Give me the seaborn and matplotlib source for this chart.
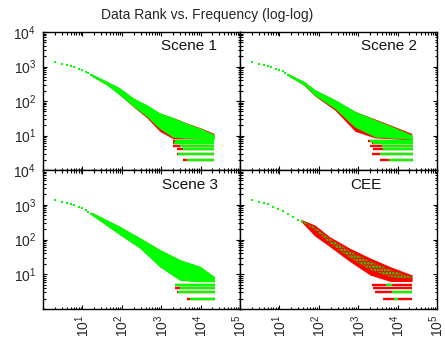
import numpy as np
import matplotlib
matplotlib.use("Agg")
import matplotlib.pyplot as plt
import seaborn as sns
from matplotlib.ticker import LogLocator, FuncFormatter, NullFormatter

# ---------------- data ----------------
panels = ["Scene 1", "Scene 2", "Scene 3", "CEE"]

# sparse head of the rank/frequency curve (green points)
s1_head_rank = [2, 3, 4, 5, 6, 8, 10, 12, 14, 17, 20]
s1_head_freq = [1350, 1180, 1100, 1020, 950, 850, 790, 710, 630, 560, 500]
s2_head_rank = [2, 3, 4, 5, 6, 8, 10, 12, 14, 17, 20]
s2_head_freq = [1350, 1190, 1110, 1030, 960, 860, 800, 720, 640, 570, 510]
s3_head_rank = [2, 3, 4, 5, 6, 8, 10, 12, 14, 17, 20]
s3_head_freq = [1380, 1200, 1120, 1040, 960, 860, 790, 700, 620, 550, 490]
cee_head_rank = [2, 3, 4, 5, 7, 9, 12, 17, 22, 30, 37]
cee_head_freq = [1380, 1230, 1150, 1050, 870, 740, 660, 560, 457, 363, 324]

# dense band envelopes (rank positions, upper / lower frequency)
s1_band_rank = [17, 42, 89, 195, 427, 933, 2040, 4470, 9550, 22000]
s1_green_hi = [600, 363, 234, 120, 76, 44, 32, 22, 16, 10.5]
s1_green_lo = [540, 295, 152, 72, 37, 16, 9, 8.5, 8, 8]
s1_red_hi = [600, 363, 234, 120, 76, 44, 33, 23, 17, 11.5]
s1_red_lo = [540, 295, 150, 68, 33, 13, 8, 8, 8, 8]

s2_band_rank = [17, 42, 79, 257, 832, 2690, 8510, 22900]
s2_green_hi = [600, 363, 209, 107, 49, 28, 16.6, 10.2]
s2_green_lo = [540, 295, 150, 62, 17.8, 9.3, 8.5, 8]
s2_red_hi = [600, 363, 209, 107, 50, 30, 18, 11.5]
s2_red_lo = [540, 285, 140, 54, 13.2, 8.5, 8, 7.4]

s3_band_rank = [17, 89, 288, 933, 3020, 9550, 22000]
s3_green_hi = [600, 234, 110, 50, 25.7, 16.6, 8.5]
s3_green_lo = [520, 140, 57.5, 16.6, 6.8, 6.2, 6.2]
s3_red_hi = [600, 234, 110, 50, 25.7, 16.6, 8.5]
s3_red_lo = [520, 140, 57.5, 16.6, 6.8, 6.2, 6.2]

cee_band_rank = [35, 79, 190, 617, 2000, 6460, 23400]
cee_green_hi = [363, 229, 107, 46, 23.4, 13.5, 8.3]
cee_green_lo = [331, 190, 78, 29.5, 13.5, 8.3, 7.1]
cee_red_hi = [380, 263, 120, 56, 29.5, 16.6, 9.5]
cee_red_lo = [330, 126, 62, 23, 9.5, 6.2, 6.2]

# horizontal streaks at small integer frequencies
s1_streak_freq = [2, 3, 4, 5, 6, 7]
s1_streak_red_start = [3630, 2450, 2450, 1950, 2040, 2040]
s1_streak_green_start = [4470, 2630, 3630, 3020, 2140, 2240]
s1_streak_green_end = [22000, 22000, 22000, 22000, 22000, 22000]
s1_streak_end = 22000

s2_streak_freq = [2, 3, 4, 5, 6, 7]
s2_streak_red_start = [3630, 2240, 2400, 2040, 2240, 1780]
s2_streak_green_start = [5890, 3550, 4370, 3980, 2400, 2000]
s2_streak_green_end = [24000, 24000, 24000, 24000, 24000, 24000]
s2_streak_end = 24000

s3_streak_freq = [2, 3, 4, 5]
s3_streak_red_start = [4470, 2510, 2240, 2240]
s3_streak_green_start = [5370, 2690, 3020, 2240]
s3_streak_green_end = [23400, 23400, 23400, 23400]
s3_streak_end = 23400

cee_streak_freq = [2, 3, 4, 5]
cee_streak_red_start = [4170, 2690, 2400, 2190]
cee_streak_green_start = [7940, 7080, 23400, 5010]
cee_streak_green_end = [10000, 23400, 23400, 7080]
cee_streak_end = 23400

# ---------------- styling ----------------
sns.set_style("ticks")
plt.rcParams['font.family'] = ['Liberation Sans', 'DejaVu Sans']
plt.rcParams['mathtext.default'] = 'regular'
plt.rcParams['hatch.linewidth'] = 1.3

RED = "#ff0000"
GREEN = "#00ff00"

fig = plt.figure(figsize=(4.45, 3.45), dpi=100)
W, H = 445, 345


def rect(x0, y0, x1, y1):
    return [x0 / W, 1 - y1 / H, (x1 - x0) / W, (y1 - y0) / H]


boxes = {
    "Scene 1": rect(43, 32, 240, 170),
    "Scene 2": rect(240, 32, 437, 170),
    "Scene 3": rect(43, 170, 240, 309),
    "CEE": rect(240, 170, 437, 309),
}
label_x = {"Scene 1": 0.885, "Scene 2": 0.9, "Scene 3": 0.89, "CEE": 0.72}

data = {
    "Scene 1": (s1_head_rank, s1_head_freq, s1_band_rank, s1_green_hi, s1_green_lo,
                s1_red_hi, s1_red_lo, s1_streak_freq, s1_streak_red_start,
                s1_streak_green_start, s1_streak_green_end, s1_streak_end),
    "Scene 2": (s2_head_rank, s2_head_freq, s2_band_rank, s2_green_hi, s2_green_lo,
                s2_red_hi, s2_red_lo, s2_streak_freq, s2_streak_red_start,
                s2_streak_green_start, s2_streak_green_end, s2_streak_end),
    "Scene 3": (s3_head_rank, s3_head_freq, s3_band_rank, s3_green_hi, s3_green_lo,
                s3_red_hi, s3_red_lo, s3_streak_freq, s3_streak_red_start,
                s3_streak_green_start, s3_streak_green_end, s3_streak_end),
    "CEE": (cee_head_rank, cee_head_freq, cee_band_rank, cee_green_hi, cee_green_lo,
            cee_red_hi, cee_red_lo, cee_streak_freq, cee_streak_red_start,
            cee_streak_green_start, cee_streak_green_end, cee_streak_end),
}


def fmt(v, pos):
    e = int(round(np.log10(v)))
    return "$10^{%d}$" % e if e >= 1 else ""


for name in panels:
    ax = fig.add_axes(boxes[name])
    (hr, hf, br, ghi, glo, rhi, rlo, sf, srs, sgs, sge, se) = data[name]
    ax.set_xscale("log")
    ax.set_yscale("log")

    # red series first, green on top
    ax.fill_between(br, rlo, rhi, color=RED, linewidth=0, zorder=1)
    ax.hlines(sf, srs, se, color=RED, linewidth=1.7, zorder=1)
    if name == "CEE":
        ax.fill_between(br, glo, ghi, facecolor="none", hatch=".....",
                        edgecolor=GREEN, linewidth=0, zorder=2)
    else:
        ax.fill_between(br, glo, ghi, color=GREEN, linewidth=0.5, edgecolor=GREEN, zorder=2)
    ax.hlines(sf, sgs, sge, color=GREEN, linewidth=1.7, zorder=2)
    sns.scatterplot(x=hr, y=hf, ax=ax, marker="s", s=3, color=GREEN,
                    linewidth=0, legend=False, zorder=3)

    ax.set_xlim(1, 1e5)
    ax.set_ylim(1, 1e4)
    ax.set_xlabel("")
    ax.set_ylabel("")

    ax.xaxis.set_major_locator(LogLocator(base=10, numticks=10))
    ax.yaxis.set_major_locator(LogLocator(base=10, numticks=10))
    ax.xaxis.set_minor_locator(LogLocator(base=10, subs=np.arange(2, 10), numticks=20))
    ax.yaxis.set_minor_locator(LogLocator(base=10, subs=np.arange(2, 10), numticks=20))
    ax.xaxis.set_minor_formatter(NullFormatter())
    ax.yaxis.set_minor_formatter(NullFormatter())

    left = name in ("Scene 1", "Scene 3")
    bottom = name in ("Scene 3", "CEE")
    if left:
        ax.yaxis.set_major_formatter(FuncFormatter(fmt))
    else:
        ax.yaxis.set_major_formatter(NullFormatter())
    if bottom:
        ax.xaxis.set_major_formatter(FuncFormatter(fmt))
    else:
        ax.xaxis.set_major_formatter(NullFormatter())

    ax.tick_params(which="both", direction="in", top=True, right=True,
                   color="black", width=0.8)
    ax.tick_params(which="major", length=3.2, labelsize=10)
    ax.tick_params(which="minor", length=1.8)
    ax.tick_params(axis="x", which="major", pad=4, labelrotation=90)
    ax.tick_params(axis="y", which="major", pad=5)
    for sp in ax.spines.values():
        sp.set_visible(True)
        sp.set_linewidth(1.0)
        sp.set_color("black")
        sp.set_zorder(5)

    ax.text(label_x[name], 0.895, name, transform=ax.transAxes,
            ha="right", va="center", fontsize=11, color="#111111", zorder=6)

fig.text(207 / W, 1 - 15 / H, "Data Rank vs. Frequency (log-log)",
         ha="center", va="center", fontsize=10)

fig.savefig("out.png", dpi=100)
